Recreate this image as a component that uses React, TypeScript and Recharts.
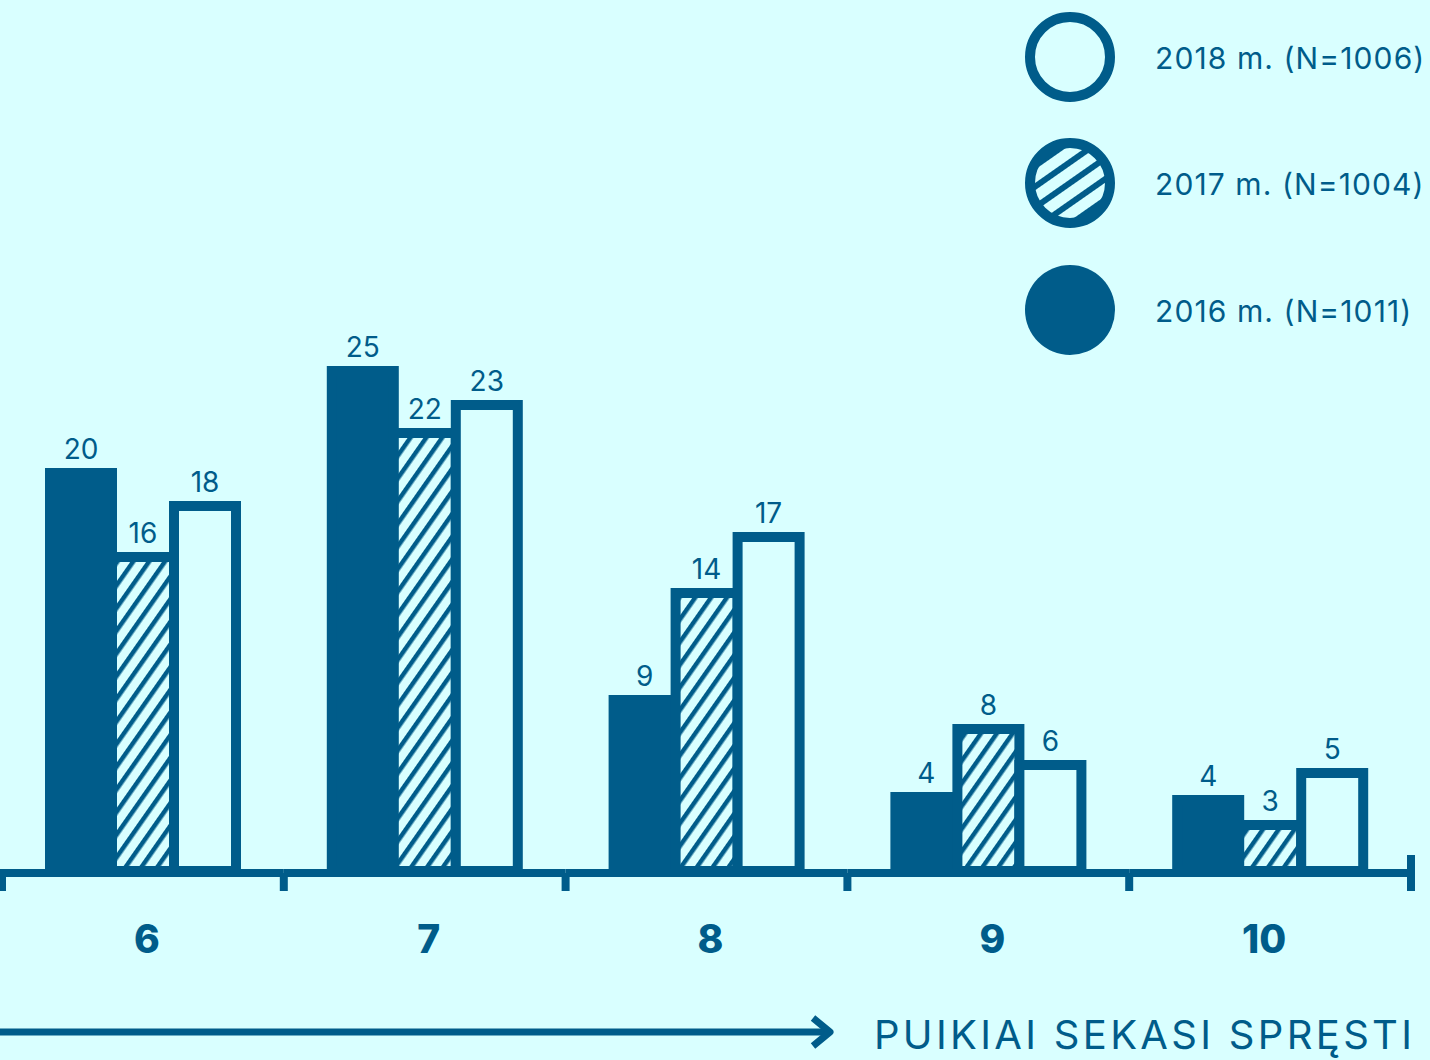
import React from 'react';
import { BarChart, Bar, XAxis, YAxis, LabelList, Legend } from 'recharts';

const categories = ['6', '7', '8', '9', '10'];
const values2016 = [19.9, 25.0, 8.55, 3.7, 3.55];
const values2017 = [15.7, 21.9, 13.9, 7.1, 2.3];
const values2018 = [18.25, 23.3, 16.7, 5.3, 4.9];
const labels2016 = ['20', '25', '9', '4', '4'];
const labels2017 = ['16', '22', '14', '8', '3'];
const labels2018 = ['18', '23', '17', '6', '5'];
const seriesNames = ['2016 m. (N=1011)', '2017 m. (N=1004)', '2018 m. (N=1006)'];
const axisTitle = 'PUIKIAI SEKASI SPRĘSTI';

const C = '#005c8a';
const BG = '#d9ffff';
const FONT = 'Inter, "Noto Sans", sans-serif';

const W = 1430;
const H = 1060;
const MARGIN = { top: 71, right: 19, bottom: 89, left: 2 };
const BAND = (W - MARGIN.left - MARGIN.right) / categories.length;

const data = categories.map((c, i) => ({
  cat: c,
  v16: values2016[i],
  v17: values2017[i],
  v18: values2018[i],
  l16: labels2016[i],
  l17: labels2017[i],
  l18: labels2018[i],
}));

const AxisTick = (props: any) => {
  const { x, y, payload, index } = props;
  const half = BAND / 2;
  const last = index === categories.length - 1;
  return (
    <g>
      <line x1={x - half - (index === 0 ? 6 : 0)} x2={x + half + (last ? 4 : 0)} y1={y + 2} y2={y + 2} stroke={C} strokeWidth={8} />
      <line x1={x - half} x2={x - half} y1={y + 2} y2={y + 20} stroke={C} strokeWidth={8} />
      {last && <line x1={x + half} x2={x + half} y1={y - 16} y2={y + 20} stroke={C} strokeWidth={8} />}
      <text x={x + (last ? -6 : 4)} y={y + 82} textAnchor="middle" fontSize={39} fontWeight={800} fontFamily={FONT} fill={C}>
        {payload.value}
      </text>
    </g>
  );
};

const LegendContent = () => {
  const rows = [
    { name: seriesNames[2], cy: 57, kind: 'outline' },
    { name: seriesNames[1], cy: 183, kind: 'hatch' },
    { name: seriesNames[0], cy: 310, kind: 'solid' },
  ];
  return (
    <svg width={430} height={370} style={{ display: 'block' }}>
      <defs>
        <pattern id="legendHatch" patternUnits="userSpaceOnUse" width={17} height={17} patternTransform="rotate(55)">
          <rect width={17} height={17} fill={BG} />
          <rect x={0} y={0} width={6} height={17} fill={C} />
        </pattern>
      </defs>
      {rows.map((r) => (
        <g key={r.name}>
          {r.kind === 'solid' ? (
            <circle cx={70} cy={r.cy} r={45} fill={C} />
          ) : (
            <circle cx={70} cy={r.cy} r={40} fill={r.kind === 'hatch' ? 'url(#legendHatch)' : BG} stroke={C} strokeWidth={10} />
          )}
          <text x={155} y={r.cy + 12} fontSize={30} letterSpacing={1.1} fontFamily={FONT} fill={C}>
            {r.name}
          </text>
        </g>
      ))}
    </svg>
  );
};

export default function App() {
  return (
    <div style={{ position: 'absolute', left: 0, top: 0, width: W, height: H, background: BG, overflow: 'hidden' }}>
      <BarChart width={W} height={H} data={data} margin={MARGIN} barGap={0} barCategoryGap={0}>
        <defs>
          <pattern id="barHatch" patternUnits="userSpaceOnUse" width={13} height={13} patternTransform="rotate(35)">
            <rect width={13} height={13} fill={BG} />
            <rect x={0} y={0} width={4.5} height={13} fill={C} />
          </pattern>
        </defs>
        <XAxis dataKey="cat" height={100} axisLine={false} tickLine={false} tickSize={0} tickMargin={0} interval={0} tick={<AxisTick />} />
        <YAxis hide domain={[0, 40]} />
        <Legend
          layout="horizontal"
          verticalAlign="middle"
          align="center"
          content={<LegendContent />}
          wrapperStyle={{ position: 'absolute', left: 1000, top: 0, width: 430, height: 370 }}
        />
        <Bar dataKey="v16" name={seriesNames[0]} fill={C} stroke={C} strokeWidth={10} barSize={62} isAnimationActive={false}>
          <LabelList dataKey="l16" position="top" offset={14} fill={C} fontSize={28} fontFamily={FONT} />
        </Bar>
        <Bar dataKey="v17" name={seriesNames[1]} fill="url(#barHatch)" stroke={C} strokeWidth={10} barSize={62} isAnimationActive={false}>
          <LabelList dataKey="l17" position="top" offset={14} fill={C} fontSize={28} fontFamily={FONT} />
        </Bar>
        <Bar dataKey="v18" name={seriesNames[2]} fill={BG} stroke={C} strokeWidth={10} barSize={62} isAnimationActive={false}>
          <LabelList dataKey="l18" position="top" offset={14} fill={C} fontSize={28} fontFamily={FONT} />
        </Bar>
      </BarChart>
      <svg width={W} height={H} style={{ position: 'absolute', left: 0, top: 0, pointerEvents: 'none' }}>
        <line x1={0} x2={826} y1={1032} y2={1032} stroke={C} strokeWidth={7} />
        <polyline points="813,1018 830,1032 813,1046" fill="none" stroke={C} strokeWidth={7} strokeLinejoin="round" />
        <text x={874} y={1049} fontSize={40} fontFamily={FONT} fill={C} textLength={538} lengthAdjust="spacing">
          {axisTitle}
        </text>
      </svg>
    </div>
  );
}
